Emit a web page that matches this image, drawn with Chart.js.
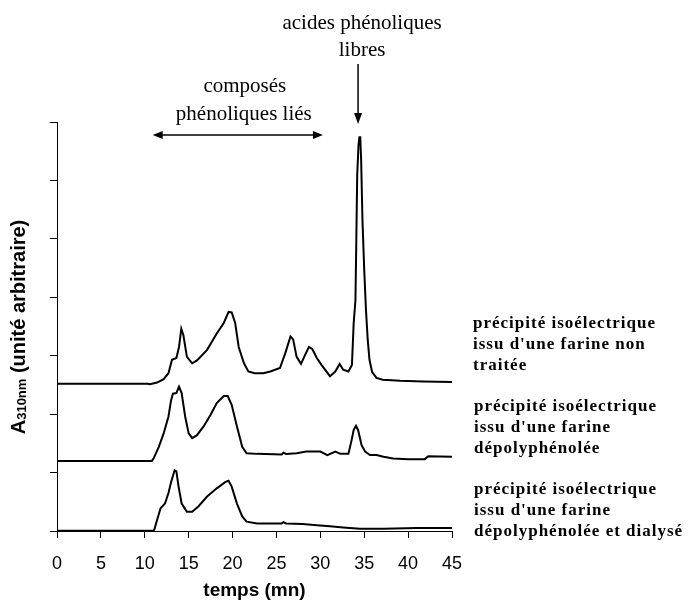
<!DOCTYPE html>
<html>
<head>
<meta charset="utf-8">
<script src="https://cdn.jsdelivr.net/npm/chart.js@4/dist/chart.umd.min.js"></script>
<style>
  html, body { margin: 0; padding: 0; background: #fff; }
  #wrap { width: 689px; height: 608px; position: relative; }
</style>
</head>
<body>
<div id="wrap"><canvas id="chart"></canvas></div>
<script>
// Elution time (mn) and A310nm (arbitrary units, traces stacked with an offset)
const tNonTraitee = [0, 5, 10.3, 10.6, 11.4, 12.15, 12.7, 13.1, 13.6, 13.9, 14.16, 14.4, 14.8, 15.4, 15.95, 17.1, 18.2, 19.0, 19.55, 19.9, 20.3, 20.7, 21.3, 21.8, 22.5, 23.5, 24.3, 25.4, 26.0, 26.6, 26.9, 27.3, 27.8, 28.25, 28.7, 29.1, 29.6, 30.15, 31.1, 31.7, 32.2, 32.6, 33.2, 33.6, 33.8, 34.0, 34.1, 34.2, 34.35, 34.45, 34.55, 34.65, 34.8, 35.0, 35.2, 35.4, 35.6, 35.9, 36.4, 37.1, 39.1, 41.7, 45];
const aNonTraitee = [2.52, 2.52, 2.52, 2.51, 2.54, 2.60, 2.70, 2.93, 2.96, 3.15, 3.46, 3.35, 2.98, 2.87, 2.92, 3.10, 3.38, 3.56, 3.75, 3.74, 3.56, 3.15, 2.87, 2.73, 2.70, 2.70, 2.73, 2.79, 3.04, 3.33, 3.28, 2.98, 2.86, 3.01, 3.15, 3.11, 2.96, 2.84, 2.65, 2.73, 2.86, 2.76, 2.73, 2.84, 3.56, 3.95, 4.98, 6.09, 6.61, 6.74, 6.74, 6.35, 5.32, 4.47, 3.78, 3.27, 2.93, 2.72, 2.62, 2.59, 2.57, 2.56, 2.55];

const tDepoly = [0, 5, 10.8, 11.0, 11.6, 12.15, 12.7, 13.0, 13.2, 13.6, 13.9, 14.2, 14.6, 15.0, 15.4, 15.95, 16.7, 17.5, 18.2, 19.0, 19.45, 19.9, 20.5, 21.1, 21.6, 22.8, 25.6, 25.8, 26.1, 27.3, 28.4, 30.0, 30.8, 31.7, 32.3, 33.2, 33.57, 33.8, 34.06, 34.3, 34.7, 35.1, 35.66, 36.4, 37.2, 38.3, 40.0, 41.9, 42.3, 45];
const aDepoly = [1.20, 1.20, 1.20, 1.24, 1.44, 1.67, 1.96, 2.24, 2.35, 2.36, 2.47, 2.36, 1.96, 1.67, 1.59, 1.64, 1.79, 1.99, 2.19, 2.31, 2.31, 2.16, 1.79, 1.44, 1.33, 1.32, 1.31, 1.34, 1.32, 1.33, 1.36, 1.36, 1.30, 1.36, 1.32, 1.32, 1.56, 1.73, 1.80, 1.73, 1.47, 1.36, 1.30, 1.30, 1.27, 1.24, 1.23, 1.23, 1.28, 1.27];

const tDialyse = [0, 5, 11.0, 11.1, 11.4, 11.8, 12.3, 12.7, 13.0, 13.4, 13.6, 13.85, 14.2, 14.8, 15.4, 16.1, 17.1, 18.2, 19.2, 19.55, 19.9, 20.5, 21.1, 21.6, 22.8, 25.6, 25.8, 26.1, 28.0, 29.6, 31.1, 32.6, 34.5, 37.2, 41.0, 45];
const aDialyse = [0.005, 0.005, 0.005, 0.03, 0.19, 0.39, 0.47, 0.65, 0.84, 1.04, 1.02, 0.76, 0.47, 0.33, 0.33, 0.42, 0.59, 0.73, 0.84, 0.86, 0.76, 0.47, 0.25, 0.16, 0.13, 0.13, 0.15, 0.13, 0.12, 0.10, 0.08, 0.06, 0.04, 0.04, 0.05, 0.05];

const xTickValues = [0, 5, 10, 15, 20, 25, 30, 35, 40, 45];
const xTitle = 'temps (mn)';

// Sample captions (one per trace, top to bottom)
const sampleLabels = [
  ['précipité isoélectrique', "issu d'une farine non", 'traitée'],
  ['précipité isoélectrique', "issu d'une farine", 'dépolyphénolée'],
  ['précipité isoélectrique', "issu d'une farine", 'dépolyphénolée et dialysé']
];
// Zone annotations (time in mn)
const boundRange = [10.9, 30.3];
const freeAcidTime = 34.3;

const toPoints = (t, a) => t.map((v, i) => ({ x: v, y: a[i] }));

const traceStyle = {
  borderColor: '#000',
  borderWidth: 2,
  pointRadius: 0,
  tension: 0,
  fill: false,
  showLine: true
};

const SERIF = '"Liberation Serif", "Times New Roman", serif';
const SANS = '"Liberation Sans", Arial, sans-serif';

function arrowHead(ctx, x, y, dx, dy, len, half) {
  const nx = -dy, ny = dx;
  ctx.beginPath();
  ctx.moveTo(x, y);
  ctx.lineTo(x - dx * len + nx * half, y - dy * len + ny * half);
  ctx.lineTo(x - dx * len - nx * half, y - dy * len - ny * half);
  ctx.closePath();
  ctx.fill();
}

const decorations = {
  id: 'decorations',
  afterDraw(chart) {
    const ctx = chart.ctx;
    const xs = chart.scales.x;
    ctx.save();
    ctx.fillStyle = '#000';
    ctx.strokeStyle = '#000';

    // Y axis title with subscript
    ctx.save();
    ctx.translate(25, 327);
    ctx.rotate(-Math.PI / 2);
    const big = 'bold 20px ' + SANS;
    const small = 'bold 13px ' + SANS;
    ctx.font = big;
    const wA = ctx.measureText('A').width;
    const rest = ' (unité arbitraire)';
    const wRest = ctx.measureText(rest).width;
    ctx.font = small;
    const wSub = ctx.measureText('310nm').width;
    let x0 = -(wA + wSub + wRest) / 2;
    ctx.textBaseline = 'alphabetic';
    ctx.textAlign = 'left';
    ctx.font = big;
    ctx.fillText('A', x0, 0);
    ctx.font = small;
    ctx.fillText('310nm', x0 + wA, 1);
    ctx.font = big;
    ctx.fillText(rest, x0 + wA + wSub, 0);
    ctx.restore();

    // Sample captions at the right of each trace
    ctx.font = 'bold 17px ' + SERIF;
    ctx.textAlign = 'left';
    ctx.textBaseline = 'middle';
    if ('letterSpacing' in ctx) ctx.letterSpacing = '1px';
    const capX = [473, 474, 474];
    const capY = [324, 407, 490];
    sampleLabels.forEach((lines, g) => {
      lines.forEach((s, i) => ctx.fillText(s, capX[g], capY[g] + i * 21));
    });
    if ('letterSpacing' in ctx) ctx.letterSpacing = '0px';

    // Free phenolic acids
    const xf = xs.getPixelForValue(freeAcidTime);
    ctx.font = '21px ' + SERIF;
    ctx.textAlign = 'center';
    ctx.fillText('acides phénoliques', xf + 4, 23);
    ctx.fillText('libres', xf + 4, 50);
    ctx.lineWidth = 1.5;
    ctx.beginPath();
    ctx.moveTo(xf, 64);
    ctx.lineTo(xf, 115);
    ctx.stroke();
    arrowHead(ctx, xf, 124, 0, 1, 11, 4);

    // Bound phenolic compounds
    const xa = xs.getPixelForValue(boundRange[0]);
    const xb = xs.getPixelForValue(boundRange[1]);
    const xm = (xa + xb) / 2;
    ctx.fillText('composés', xm + 7, 86);
    ctx.fillText('phénoliques liés', xm + 6, 114);
    ctx.beginPath();
    ctx.moveTo(xa + 8, 135);
    ctx.lineTo(xb - 8, 135);
    ctx.stroke();
    arrowHead(ctx, xa, 135, -1, 0, 10, 4);
    arrowHead(ctx, xb, 135, 1, 0, 10, 4);

    ctx.restore();
  }
};

new Chart(document.getElementById('chart'), {
  type: 'scatter',
  data: {
    datasets: [
      Object.assign({ label: 'non traitée', data: toPoints(tNonTraitee, aNonTraitee) }, traceStyle),
      Object.assign({ label: 'dépolyphénolée', data: toPoints(tDepoly, aDepoly) }, traceStyle),
      Object.assign({ label: 'dépolyphénolée et dialysé', data: toPoints(tDialyse, aDialyse) }, traceStyle)
    ]
  },
  options: {
    responsive: true,
    maintainAspectRatio: false,
    animation: false,
    devicePixelRatio: 1,
    layout: { padding: { left: 0, right: 237, top: 122, bottom: 0 } },
    plugins: { legend: { display: false }, tooltip: { enabled: false } },
    scales: {
      x: {
        type: 'linear',
        min: 0,
        max: 45,
        afterBuildTicks: (scale) => { scale.ticks = xTickValues.map(v => ({ value: v })); },
        afterFit: (scale) => { scale.height = 77; },
        ticks: {
          color: '#000',
          font: { family: SANS, size: 18 },
          padding: 15,
          maxRotation: 0,
          autoSkip: false
        },
        grid: { drawOnChartArea: false, drawTicks: true, tickLength: 7, color: '#000', lineWidth: 1 },
        border: { display: true, color: '#000', width: 1 },
        title: {
          display: true,
          text: xTitle,
          color: '#000',
          font: { family: SANS, size: 19, weight: 'bold' },
          padding: { top: 0, bottom: 6 }
        }
      },
      y: {
        type: 'linear',
        min: 0,
        max: 7,
        ticks: { stepSize: 1, callback: () => '', padding: 0 },
        afterFit: (scale) => { scale.width = 57; },
        grid: { drawOnChartArea: false, drawTicks: true, tickLength: 7, color: '#000', lineWidth: 1 },
        border: { display: true, color: '#000', width: 1 }
      }
    }
  },
  plugins: [decorations]
});
</script>
</body>
</html>
